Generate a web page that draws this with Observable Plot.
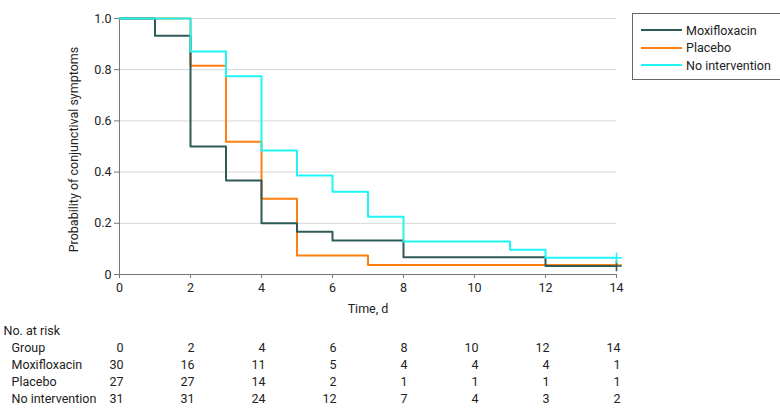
<!DOCTYPE html>
<html><head><meta charset="utf-8">
<script src="https://cdn.jsdelivr.net/npm/d3@7"></script>
<script src="https://cdn.jsdelivr.net/npm/@observablehq/plot@0.6"></script>
<style>
html,body{margin:0;padding:0;background:#fff;}
#wrap{position:relative;width:780px;height:418px;overflow:hidden;font-family:Roboto,"Liberation Sans",sans-serif;color:#222;}
#wrap svg{display:block;}
#legend{position:absolute;left:632px;top:13px;width:150px;height:67px;border:1px solid #666;box-sizing:border-box;background:#fff;}
#legend .row{position:absolute;left:0;height:18px;display:flex;align-items:center;font-size:12.5px;white-space:nowrap;}
#legend .row svg{margin-left:8px;margin-right:4px;}
</style></head><body>
<div id="wrap"><div id="legend"></div></div>
<script>
const groups = ["Moxifloxacin", "Placebo", "No intervention"];
const colors = ["#2f5b57", "#ff7f0e", "#1ff5f5"];

// Kaplan-Meier step data (time in days, survival probability)
const moxiTimes = [0, 1, 2, 3, 4, 5, 6, 8, 12, 14];
const moxiSurv = [1, 0.933, 0.5, 0.367, 0.2, 0.167, 0.133, 0.067, 0.033, 0.033];
const placeboTimes = [0, 2, 3, 4, 5, 7, 14];
const placeboSurv = [1, 0.815, 0.519, 0.296, 0.074, 0.037, 0.037];
const noIntTimes = [0, 2, 3, 4, 5, 6, 7, 8, 11, 12, 14];
const noIntSurv = [1, 0.871, 0.774, 0.484, 0.387, 0.323, 0.226, 0.129, 0.097, 0.065, 0.065];

const tickDays = [0, 2, 4, 6, 8, 10, 12, 14];
const yTicks = [0, 0.2, 0.4, 0.6, 0.8, 1];
const riskMoxi = [30, 16, 11, 5, 4, 4, 4, 1];
const riskPlacebo = [27, 27, 14, 2, 1, 1, 1, 1];
const riskNoInt = [31, 31, 24, 12, 7, 4, 3, 2];
const tableRows = ["No. at risk", "Group", "Moxifloxacin", "Placebo", "No intervention"];

const series = [
  {group: "Moxifloxacin", t: moxiTimes, s: moxiSurv},
  {group: "Placebo", t: placeboTimes, s: placeboSurv},
  {group: "No intervention", t: noIntTimes, s: noIntSurv}
];
const drawOrder = ["Placebo", "Moxifloxacin", "No intervention"];
const rows = [];
const ends = [];
for (const g of drawOrder) {
  const ser = series.find(d => d.group === g);
  ser.t.forEach((t, i) => rows.push({group: g, time: t, surv: ser.s[i]}));
  ends.push({group: g, time: ser.t[ser.t.length - 1], surv: ser.s[ser.s.length - 1]});
}

const font = "Roboto, 'Liberation Sans', sans-serif";
const main = Plot.plot({
  width: 780, height: 316,
  marginLeft: 119, marginRight: 164, marginTop: 18, marginBottom: 42,
  style: {fontFamily: font, fontSize: "12.5px", color: "#222", background: "white", overflow: "visible"},
  x: {domain: [0, 14]},
  y: {domain: [0, 1]},
  color: {domain: groups, range: colors},
  marks: [
    Plot.gridY([0.2, 0.4, 0.6, 0.8, 1], {stroke: "#d6d6d6", strokeOpacity: 1, strokeWidth: 1}),
    Plot.axisX(tickDays, {tickSize: 4, tickPadding: 5, stroke: "#777", label: null, fontSize: 12.5}),
    Plot.axisY(yTicks, {tickSize: 5, tickPadding: 3, stroke: "#777", label: null, fontSize: 12.5,
      tickFormat: d => d === 0 ? "0" : d.toFixed(1)}),
    Plot.ruleY([0], {stroke: "#777"}),
    Plot.ruleX([0], {stroke: "#777"}),
    Plot.line(rows, {x: "time", y: "surv", z: "group", stroke: "group", curve: "step-after", strokeWidth: 2}),
    Plot.dot(ends, {x: "time", y: "surv", stroke: "group", symbol: "plus", r: 3.5, strokeWidth: 1.5}),
    Plot.text(["Time, d"], {text: d => d, frameAnchor: "bottom", lineAnchor: "middle", dy: 34, fontSize: 12.5}),
    Plot.text(["Probability of conjunctival symptoms"], {text: d => d, frameAnchor: "left", textAnchor: "middle", lineAnchor: "middle", rotate: -90, dx: -46, dy: 3, fontSize: 12.5})
  ]
});

const riskRows = [];
tickDays.forEach((d, i) => {
  riskRows.push({day: d, row: "Group", n: String(d)});
  riskRows.push({day: d, row: "Moxifloxacin", n: String(riskMoxi[i])});
  riskRows.push({day: d, row: "Placebo", n: String(riskPlacebo[i])});
  riskRows.push({day: d, row: "No intervention", n: String(riskNoInt[i])});
});

const table = Plot.plot({
  width: 780, height: 102,
  marginLeft: 119, marginRight: 164, marginTop: 0, marginBottom: 0,
  style: {fontFamily: font, fontSize: "12.5px", color: "#222", background: "white", overflow: "visible"},
  x: {domain: [0, 14], axis: null},
  y: {type: "point", domain: tableRows, range: [13, 83], padding: 0, axis: null},
  marks: [
    Plot.text(tableRows.slice(0, 1), {y: d => d, text: d => d, frameAnchor: "left", textAnchor: "start", dx: -116}),
    Plot.text(tableRows.slice(1), {y: d => d, text: d => d, frameAnchor: "left", textAnchor: "start", dx: -108}),
    Plot.text(riskRows, {x: "day", y: "row", text: "n", textAnchor: "end", dx: 4})
  ]
});

const wrap = document.getElementById("wrap");
wrap.insertBefore(main, wrap.firstChild);
wrap.insertBefore(table, main.nextSibling);

const legend = document.getElementById("legend");
groups.forEach((g, i) => {
  const row = document.createElement("div");
  row.className = "row";
  row.style.top = (7 + i * 17.5) + "px";
  row.innerHTML = `<svg width="41" height="4"><line x1="0" x2="41" y1="2" y2="2" stroke="${colors[i]}" stroke-width="2"/></svg><span>${g}</span>`;
  legend.appendChild(row);
});
</script>
</body></html>
